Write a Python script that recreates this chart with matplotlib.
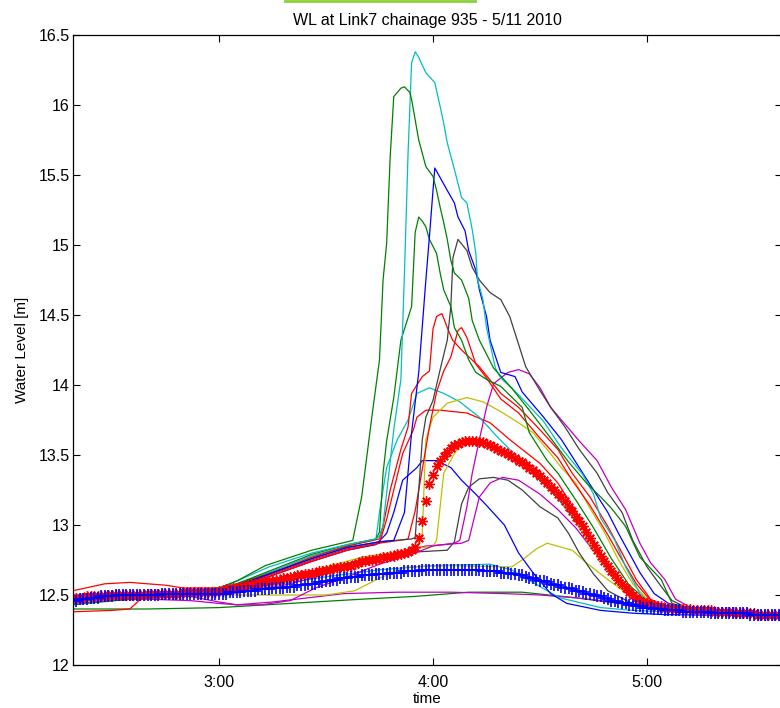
import numpy as np
import matplotlib
matplotlib.use('Agg')
import matplotlib.pyplot as plt
from matplotlib.ticker import FuncFormatter
from matplotlib.lines import Line2D

plt.rcParams['font.family'] = ['Liberation Sans', 'DejaVu Sans']

# water level runs, times as H:MM, values in m
g_hi_t = ['2:19', '2:35', '2:50', '3:00', '3:05', '3:13', '3:26', '3:36', '3:37.5', '3:40', '3:43', '3:45', '3:46',
          '3:47', '3:48', '3:49', '3:51', '3:52', '3:53.5', '3:54', '3:56', '3:58', '4:00', '4:01', '4:02', '4:03',
          '4:04', '4:05', '4:06', '4:08', '4:10', '4:11', '4:13', '4:17', '4:22', '4:27', '4:33', '4:38', '4:43',
          '4:47', '4:50', '4:54', '4:58', '5:04', '5:07', '5:12', '5:37']
g_hi_v = [12.45, 12.50, 12.52, 12.55, 12.60, 12.71, 12.82, 12.88, 12.89, 13.20, 13.80, 14.18, 14.75,
          15.01, 15.63, 16.06, 16.12, 16.13, 16.09, 16.04, 15.75, 15.56, 15.49, 15.39, 15.27, 15.16,
          15.04, 14.89, 14.80, 14.75, 14.62, 14.46, 14.32, 14.12, 13.98, 13.82, 13.62, 13.45, 13.30,
          13.20, 13.12, 12.99, 12.77, 12.61, 12.44, 12.40, 12.35]

g_mid_t = ['2:19', '2:35', '2:50', '3:00', '3:05', '3:15', '3:26', '3:36', '3:44', '3:45', '3:46', '3:47', '3:49',
           '3:51', '3:54', '3:55', '3:56', '3:57', '3:58', '3:59', '4:01', '4:02', '4:03', '4:05', '4:06', '4:08',
           '4:10', '4:12', '4:15', '4:19', '4:21', '4:25', '4:27', '4:32', '4:35', '4:40', '4:45', '4:50', '4:55',
           '5:00', '5:05', '5:37']
g_mid_v = [12.43, 12.47, 12.50, 12.53, 12.58, 12.68, 12.79, 12.86, 12.90, 12.95, 13.37, 13.60, 13.91,
           14.32, 14.56, 15.09, 15.20, 15.17, 15.13, 15.04, 14.94, 14.80, 14.68, 14.56, 14.41, 14.32,
           14.18, 14.09, 14.04, 13.99, 13.94, 13.84, 13.66, 13.46, 13.37, 13.18, 12.98, 12.76, 12.57,
           12.46, 12.41, 12.35]

g_lo_t = ['2:19', '2:40', '3:00', '3:20', '3:40', '3:55', '4:10', '4:25', '4:40', '4:52', '5:05', '5:37']
g_lo_v = [12.40, 12.40, 12.41, 12.44, 12.47, 12.49, 12.52, 12.52, 12.48, 12.44, 12.40, 12.35]

c_hi_t = ['2:19', '2:35', '2:50', '3:00', '3:05', '3:14', '3:26', '3:36', '3:44', '3:45', '3:46', '3:49', '3:51',
          '3:52', '3:53', '3:54', '3:55', '3:56', '3:58', '4:00.5', '4:02', '4:03', '4:04', '4:06', '4:08', '4:09.5',
          '4:11', '4:12', '4:12.5', '4:14', '4:15', '4:17.5', '4:19', '4:24', '4:31', '4:36', '4:42', '4:45', '4:47',
          '4:51', '4:54', '4:58', '5:02', '5:37']
c_hi_v = [12.50, 12.50, 12.52, 12.55, 12.60, 12.70, 12.80, 12.86, 12.90, 12.92, 13.00, 13.68, 14.04,
          14.80, 15.65, 16.30, 16.38, 16.34, 16.23, 16.16, 15.99, 15.87, 15.73, 15.54, 15.34, 15.30,
          15.11, 14.94, 14.75, 14.61, 14.41, 14.12, 14.05, 13.93, 13.74, 13.55, 13.36, 13.22, 13.05,
          12.89, 12.70, 12.51, 12.41, 12.35]

c_mid_t = ['2:19', '2:35', '2:50', '3:00', '3:05', '3:15', '3:26', '3:36', '3:44', '3:45', '3:47', '3:50', '3:53',
           '3:55.5', '3:59', '4:03', '4:07.5', '4:13', '4:18', '4:25', '4:33', '4:39', '4:45', '4:50', '4:56',
           '5:02', '5:37']
c_mid_v = [12.48, 12.50, 12.51, 12.53, 12.58, 12.67, 12.78, 12.85, 12.90, 13.09, 13.41, 13.61, 13.75,
           13.94, 13.98, 13.94, 13.88, 13.77, 13.63, 13.45, 13.25, 13.06, 12.89, 12.66, 12.49,
           12.41, 12.35]

c_lo_t = ['2:19', '2:35', '2:50', '3:00', '3:10', '3:20', '3:30', '3:45', '4:00', '4:16', '4:22', '4:28', '4:35.5',
          '4:47', '4:56', '5:05', '5:37']
c_lo_v = [12.49, 12.51, 12.52, 12.52, 12.55, 12.59, 12.63, 12.68, 12.71, 12.72, 12.68, 12.59, 12.48,
          12.41, 12.39, 12.38, 12.35]

b_hi_t = ['2:19', '2:35', '2:50', '3:00', '3:05', '3:14', '3:26', '3:36', '3:45', '3:49', '3:52', '3:54', '3:56',
          '3:58', '3:59', '4:00', '4:00.5', '4:04', '4:06', '4:07', '4:09', '4:10', '4:12', '4:13', '4:15', '4:16',
          '4:19', '4:23', '4:25', '4:31', '4:36', '4:41', '4:45', '4:49', '4:52', '4:55', '4:58', '5:02', '5:06',
          '5:12', '5:37']
b_hi_v = [12.47, 12.49, 12.50, 12.52, 12.56, 12.65, 12.76, 12.84, 12.88, 12.89, 13.09, 13.66, 14.09,
          14.75, 15.06, 15.39, 15.55, 15.39, 15.30, 15.20, 15.10, 14.96, 14.82, 14.68, 14.49, 14.32,
          14.09, 14.06, 13.95, 13.77, 13.61, 13.41, 13.25, 13.09, 12.94, 12.80, 12.66, 12.51, 12.44,
          12.40, 12.35]

b_lo_t = ['2:19', '2:35', '2:50', '3:00', '3:05', '3:15', '3:26', '3:36', '3:44', '3:47', '3:49', '3:51.5', '3:55.5',
          '3:57', '4:01', '4:05', '4:08', '4:12', '4:15', '4:20', '4:24', '4:28', '4:33', '4:37.5', '4:47', '4:56',
          '5:05', '5:37']
b_lo_v = [12.48, 12.50, 12.51, 12.53, 12.56, 12.64, 12.74, 12.82, 12.86, 12.94, 13.09, 13.32, 13.41,
          13.46, 13.46, 13.41, 13.32, 13.22, 13.14, 13.00, 12.80, 12.66, 12.51, 12.44, 12.39, 12.37,
          12.36, 12.35]

k_hi_t = ['2:19', '2:35', '2:50', '3:00', '3:05', '3:15', '3:26', '3:36', '3:45', '3:54', '3:55', '3:56', '3:57',
          '3:58', '4:00', '4:02', '4:04', '4:05', '4:05.6', '4:07', '4:09.5', '4:11', '4:13', '4:16', '4:19',
          '4:21.5', '4:23', '4:26', '4:30', '4:33', '4:37', '4:41', '4:46', '4:49', '4:53', '4:56', '5:00', '5:04',
          '5:07', '5:12', '5:37']
k_hi_v = [12.46, 12.48, 12.50, 12.52, 12.57, 12.66, 12.76, 12.84, 12.88, 12.90, 12.91, 13.25, 13.61,
          13.77, 13.89, 14.11, 14.32, 14.56, 14.91, 15.04, 14.96, 14.84, 14.75, 14.66, 14.61,
          14.49, 14.37, 14.13, 13.96, 13.84, 13.70, 13.54, 13.37, 13.23, 13.09, 12.89, 12.70, 12.56,
          12.46, 12.40, 12.35]

k_lo_t = ['2:19', '2:35', '2:50', '3:00', '3:10', '3:20', '3:30', '3:40', '3:50', '4:04', '4:06', '4:08', '4:10',
          '4:13', '4:17', '4:21', '4:25', '4:30', '4:35', '4:38', '4:41', '4:45', '4:49', '4:55', '5:00', '5:37']
k_lo_v = [12.47, 12.49, 12.50, 12.52, 12.56, 12.62, 12.69, 12.75, 12.80, 12.82, 12.88, 13.15, 13.27,
          13.33, 13.34, 13.32, 13.25, 13.13, 13.05, 12.94, 12.80, 12.65, 12.53, 12.45, 12.41, 12.35]

r_a_t = ['2:19', '2:28', '2:35', '2:45', '2:50', '3:00', '3:05', '3:15', '3:26', '3:36', '3:45', '3:46', '3:48',
         '3:51', '3:53', '3:54', '3:57', '3:59', '4:00', '4:01', '4:02.5', '4:04', '4:05.5', '4:08', '4:13', '4:19',
         '4:24', '4:30', '4:35', '4:39', '4:44', '4:49', '4:53', '4:57', '5:01', '5:05', '5:37']
r_a_v = [12.53, 12.58, 12.59, 12.57, 12.55, 12.55, 12.58, 12.66, 12.77, 12.85, 12.90, 12.99, 13.25,
         13.54, 13.70, 13.94, 14.06, 14.10, 14.40, 14.49, 14.51, 14.41, 14.32, 14.25, 14.13, 13.94,
         13.84, 13.68, 13.54, 13.37, 13.20, 12.99, 12.80, 12.61, 12.47, 12.42, 12.35]

r_b_t = ['2:19', '2:35', '2:50', '3:00', '3:05', '3:15', '3:26', '3:36', '3:45', '3:53', '3:55', '3:57', '3:59',
         '4:01', '4:03', '4:05', '4:07', '4:08', '4:09.5', '4:12', '4:15', '4:19', '4:24', '4:30', '4:35', '4:39',
         '4:44', '4:49', '4:53', '4:57', '5:01', '5:05', '5:37']
r_b_v = [12.50, 12.50, 12.52, 12.54, 12.57, 12.65, 12.75, 12.83, 12.87, 12.90, 13.10, 13.40, 13.70,
         13.95, 14.10, 14.20, 14.39, 14.41, 14.34, 14.15, 14.05, 13.90, 13.80, 13.62, 13.48, 13.32,
         13.14, 12.93, 12.75, 12.58, 12.46, 12.41, 12.35]

r_c_t = ['2:19', '2:30', '2:35', '2:38', '2:45', '3:00', '3:05', '3:15', '3:26', '3:36', '3:45', '3:47', '3:49',
         '3:51.5', '3:54.5', '3:55.5', '3:58', '4:02', '4:09.5', '4:16', '4:21.5', '4:25', '4:30', '4:35', '4:40',
         '4:45', '4:50', '4:55', '5:00', '5:05', '5:37']
r_c_v = [12.38, 12.39, 12.40, 12.47, 12.50, 12.52, 12.56, 12.64, 12.74, 12.82, 12.87, 13.04, 13.25,
         13.51, 13.68, 13.77, 13.82, 13.82, 13.80, 13.73, 13.61, 13.54, 13.44, 13.30, 13.10,
         12.88, 12.68, 12.53, 12.45, 12.41, 12.35]

m_hi_t = ['2:19', '2:35', '2:50', '3:00', '3:05', '3:12', '3:20', '3:27', '3:35', '3:45', '3:55', '4:00', '4:06',
          '4:07.5', '4:09.5', '4:11', '4:13', '4:15', '4:17', '4:21', '4:24', '4:27', '4:30', '4:33', '4:41', '4:46',
          '4:50', '4:54', '4:58', '5:01', '5:05', '5:08', '5:13', '5:37']
m_hi_v = [12.47, 12.49, 12.50, 12.45, 12.43, 12.43, 12.46, 12.55, 12.62, 12.72, 12.80, 12.85, 12.87,
          12.89, 13.13, 13.37, 13.61, 13.84, 14.01, 14.09, 14.11, 14.08, 13.98, 13.84, 13.60, 13.46,
          13.27, 13.11, 12.87, 12.73, 12.61, 12.47, 12.40, 12.35]

m_mid_t = ['2:19', '2:35', '2:50', '3:00', '3:10', '3:20', '3:30', '3:40', '3:50', '3:58', '4:08', '4:10', '4:13',
           '4:16', '4:19.5', '4:24', '4:30', '4:35', '4:40', '4:44', '4:48', '4:52', '4:57', '5:02', '5:10', '5:37']
m_mid_v = [12.44, 12.47, 12.49, 12.50, 12.53, 12.58, 12.65, 12.72, 12.80, 12.85, 12.87, 12.89, 13.20,
           13.30, 13.34, 13.32, 13.22, 13.11, 12.98, 12.85, 12.72, 12.60, 12.50, 12.44, 12.40, 12.35]

m_lo_t = ['2:19', '2:40', '2:52', '3:00', '3:05', '3:15', '3:25', '3:35', '3:50', '4:05', '4:20', '4:30', '4:40',
          '4:47', '4:55', '5:05', '5:37']
m_lo_v = [12.46, 12.47, 12.46, 12.44, 12.43, 12.45, 12.48, 12.51, 12.52, 12.52, 12.51, 12.50, 12.48,
          12.46, 12.43, 12.40, 12.35]

y_hi_t = ['2:19', '2:35', '2:50', '3:00', '3:10', '3:20', '3:30', '3:40', '3:48', '3:55', '3:57', '3:58', '4:00',
          '4:04', '4:09.5', '4:14', '4:19', '4:24', '4:28', '4:32', '4:36', '4:40', '4:44', '4:48', '4:52', '4:56',
          '5:00', '5:05', '5:37']
y_hi_v = [12.47, 12.49, 12.50, 12.51, 12.55, 12.62, 12.70, 12.77, 12.80, 12.82, 12.94, 13.61, 13.77,
          13.87, 13.91, 13.88, 13.81, 13.73, 13.66, 13.54, 13.41, 13.30, 13.12, 12.95, 12.75, 12.58,
          12.47, 12.41, 12.35]

y_mid_t = ['2:19', '2:35', '2:50', '3:00', '3:10', '3:20', '3:30', '3:40', '3:50', '3:55', '4:00', '4:01', '4:02',
           '4:03', '4:06', '4:08', '4:12', '4:16', '4:20', '4:25', '4:30', '4:35', '4:40', '4:45', '4:50', '4:55',
           '5:00', '5:37']
y_mid_v = [12.46, 12.48, 12.50, 12.50, 12.54, 12.60, 12.67, 12.74, 12.80, 12.83, 12.85, 12.89, 13.13,
           13.37, 13.51, 13.59, 13.60, 13.57, 13.53, 13.45, 13.34, 13.20, 13.02, 12.82, 12.64, 12.50,
           12.43, 12.35]

y_lo_t = ['2:19', '2:35', '2:50', '3:00', '3:15', '3:30', '3:38', '3:45', '3:52', '4:05', '4:22', '4:25', '4:29',
          '4:32', '4:39', '4:43', '4:49', '4:55', '5:00', '5:37']
y_lo_v = [12.44, 12.47, 12.49, 12.50, 12.50, 12.50, 12.53, 12.62, 12.70, 12.71, 12.70, 12.75, 12.83,
          12.87, 12.82, 12.73, 12.61, 12.50, 12.44, 12.35]

# marker series, one value per minute from 2:18 to 5:38
marker_start = '2:18'
marker_step_min = 1
red_star_v = [12.48, 12.48, 12.48, 12.48, 12.48, 12.49, 12.49, 12.49, 12.49, 12.49,
              12.49, 12.50, 12.50, 12.50, 12.50, 12.50, 12.50, 12.50, 12.50, 12.50,
              12.50, 12.50, 12.51, 12.51, 12.51, 12.51, 12.51, 12.51, 12.51, 12.51,
              12.51, 12.51, 12.52, 12.52, 12.52, 12.52, 12.52, 12.52, 12.52, 12.52,
              12.52, 12.52, 12.53, 12.53, 12.54, 12.54, 12.55, 12.55, 12.56, 12.56,
              12.57, 12.57, 12.58, 12.58, 12.59, 12.59, 12.60, 12.60, 12.61, 12.61,
              12.62, 12.62, 12.63, 12.63, 12.64, 12.64, 12.65, 12.65, 12.66, 12.66,
              12.67, 12.67, 12.68, 12.68, 12.69, 12.69, 12.70, 12.70, 12.71, 12.71,
              12.72, 12.73, 12.74, 12.74, 12.75, 12.75, 12.76, 12.76, 12.77, 12.77,
              12.78, 12.78, 12.79, 12.79, 12.80, 12.81, 12.82, 12.84, 12.91, 13.03,
              13.17, 13.29, 13.36, 13.42, 13.46, 13.49, 13.52, 13.55, 13.57, 13.58,
              13.59, 13.60, 13.60, 13.60, 13.60, 13.59, 13.59, 13.58, 13.57, 13.56,
              13.54, 13.53, 13.52, 13.51, 13.49, 13.48, 13.46, 13.45, 13.43, 13.41,
              13.39, 13.37, 13.35, 13.32, 13.30, 13.27, 13.25, 13.22, 13.20, 13.17,
              13.13, 13.10, 13.06, 13.03, 12.99, 12.95, 12.91, 12.86, 12.82, 12.78,
              12.74, 12.71, 12.67, 12.64, 12.61, 12.58, 12.55, 12.52, 12.50, 12.48,
              12.46, 12.45, 12.44, 12.43, 12.43, 12.42, 12.42, 12.41, 12.41, 12.41,
              12.40, 12.40, 12.40, 12.40, 12.40, 12.39, 12.39, 12.39, 12.39, 12.39,
              12.39, 12.38, 12.38, 12.38, 12.38, 12.38, 12.38, 12.37, 12.37, 12.37,
              12.37, 12.37, 12.37, 12.36, 12.36, 12.36, 12.36, 12.36, 12.36, 12.36,
              12.36]
blue_plus_v = [12.46, 12.46, 12.46, 12.47, 12.47, 12.47, 12.48, 12.48, 12.48, 12.49,
               12.49, 12.49, 12.49, 12.50, 12.50, 12.50, 12.50, 12.50, 12.50, 12.50,
               12.50, 12.50, 12.50, 12.50, 12.50, 12.50, 12.51, 12.51, 12.51, 12.51,
               12.51, 12.51, 12.51, 12.51, 12.51, 12.51, 12.51, 12.51, 12.51, 12.51,
               12.51, 12.51, 12.51, 12.51, 12.51, 12.52, 12.52, 12.52, 12.52, 12.53,
               12.53, 12.53, 12.53, 12.54, 12.54, 12.54, 12.54, 12.55, 12.55, 12.55,
               12.55, 12.56, 12.56, 12.56, 12.57, 12.57, 12.57, 12.58, 12.58, 12.58,
               12.59, 12.59, 12.60, 12.60, 12.61, 12.61, 12.62, 12.62, 12.62, 12.63,
               12.63, 12.63, 12.64, 12.64, 12.64, 12.64, 12.65, 12.65, 12.65, 12.65,
               12.66, 12.66, 12.66, 12.66, 12.67, 12.67, 12.67, 12.67, 12.67, 12.68,
               12.68, 12.68, 12.68, 12.68, 12.68, 12.68, 12.68, 12.68, 12.68, 12.68,
               12.68, 12.68, 12.68, 12.68, 12.68, 12.68, 12.67, 12.67, 12.67, 12.67,
               12.67, 12.66, 12.66, 12.66, 12.65, 12.65, 12.64, 12.64, 12.63, 12.62,
               12.62, 12.61, 12.60, 12.60, 12.59, 12.58, 12.57, 12.57, 12.56, 12.55,
               12.55, 12.54, 12.53, 12.53, 12.52, 12.51, 12.51, 12.50, 12.49, 12.49,
               12.48, 12.47, 12.46, 12.46, 12.45, 12.44, 12.44, 12.43, 12.43, 12.42,
               12.42, 12.41, 12.41, 12.41, 12.40, 12.40, 12.40, 12.39, 12.39, 12.39,
               12.39, 12.39, 12.38, 12.38, 12.38, 12.38, 12.38, 12.38, 12.38, 12.38,
               12.37, 12.37, 12.37, 12.37, 12.37, 12.37, 12.37, 12.37, 12.37, 12.37,
               12.37, 12.36, 12.36, 12.36, 12.36, 12.36, 12.36, 12.36, 12.36, 12.36,
               12.36]

title_text = 'WL at Link7 chainage 935 - 5/11 2010'
x_ticks = ['3:00', '4:00', '5:00']
y_ticks = [12, 12.5, 13, 13.5, 14, 14.5, 15, 15.5, 16, 16.5]


def hours(ts):
    out = []
    for s in ts:
        h, m = s.split(':')
        out.append(int(h) + float(m) / 60.0)
    return np.array(out)


# matlab default colours
C_B = '#0000FF'
C_G = '#008000'
C_R = '#FF0000'
C_C = '#00BFBF'
C_M = '#BF00BF'
C_Y = '#BFBF00'
C_K = '#404040'

lines = [
    (g_lo_t, g_lo_v, C_G), (m_lo_t, m_lo_v, C_M), (c_lo_t, c_lo_v, C_C), (y_lo_t, y_lo_v, C_Y),
    (b_lo_t, b_lo_v, C_B), (k_lo_t, k_lo_v, C_K), (m_mid_t, m_mid_v, C_M), (y_mid_t, y_mid_v, C_Y),
    (r_c_t, r_c_v, C_R), (c_mid_t, c_mid_v, C_C), (y_hi_t, y_hi_v, C_Y), (m_hi_t, m_hi_v, C_M),
    (r_b_t, r_b_v, C_R), (r_a_t, r_a_v, C_R), (k_hi_t, k_hi_v, C_K), (g_mid_t, g_mid_v, C_G),
    (b_hi_t, b_hi_v, C_B), (c_hi_t, c_hi_v, C_C), (g_hi_t, g_hi_v, C_G),
]

fig = plt.figure(figsize=(7.8, 7.08), dpi=100)
ax = fig.add_axes([73 / 780, 1 - 665 / 708, (782.3 - 73) / 780, (665 - 35) / 708])

for t, v, col in lines:
    ax.plot(hours(t), v, color=col, lw=0.9)

t0 = hours([marker_start])[0]
mk_t = t0 + np.arange(len(red_star_v)) * marker_step_min / 60.0
ax.plot(mk_t, red_star_v, linestyle='none', marker=(8, 2, 0), color=C_R,
        markersize=7.5, markeredgewidth=1.0)
ax.plot(mk_t, blue_plus_v, linestyle='none', marker='+', color=C_B,
        markersize=8, markeredgewidth=1.2)

ax.set_xlim(2.318, 5.632)
ax.set_ylim(12, 16.5)
ax.set_xticks(hours(x_ticks))
ax.set_xticklabels(x_ticks)
ax.set_yticks(y_ticks)
ax.yaxis.set_major_formatter(FuncFormatter(lambda v, p: '%g' % v))
ax.tick_params(direction='in', top=True, right=True, length=5, width=0.8,
               labelsize=11.5, colors='black')
ax.tick_params(axis='x', pad=7.5)
ax.tick_params(axis='y', pad=2.5)
for sp in ax.spines.values():
    sp.set_linewidth(0.9)

ax.set_title(title_text, fontsize=11.5, pad=7)
ax.set_xlabel('time', fontsize=11, labelpad=1)
ax.set_ylabel('Water Level [m]', fontsize=11, labelpad=7)

# green strip above the title
fig.add_artist(Line2D([285 / 780, 475 / 780], [1 - 1 / 708, 1 - 1 / 708], color='#8ccf3c', lw=2))

plt.savefig('out.png', dpi=100)
